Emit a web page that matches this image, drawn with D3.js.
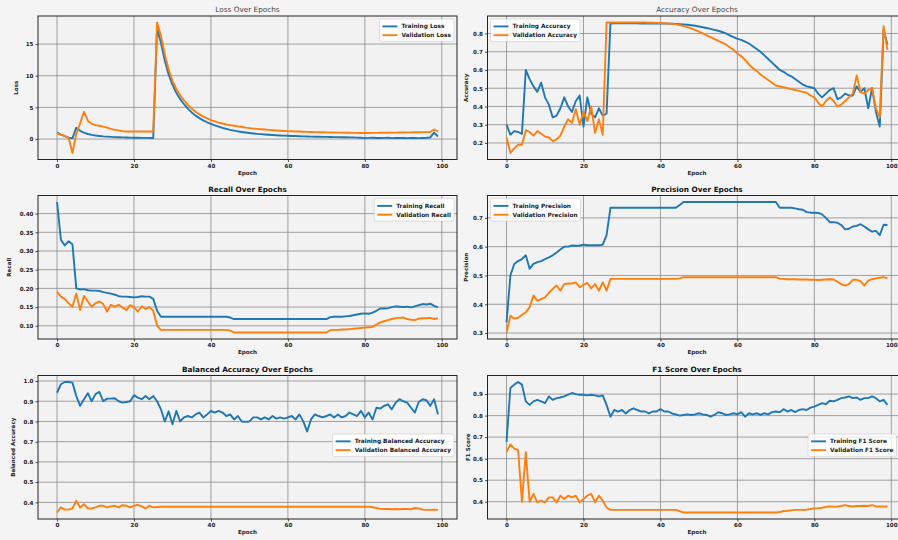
<!DOCTYPE html>
<html><head><meta charset="utf-8">
<script src="https://cdn.jsdelivr.net/npm/d3@7"></script>
<style>
html,body{margin:0;padding:0;background:#f4f4f4;overflow:hidden;}
svg{display:block;font-family:"DejaVu Sans",sans-serif;}
</style></head><body>
<svg id="fig" width="898" height="540"></svg>
<script>
const epochs = d3.range(100);
const xTicks = [0, 20, 40, 60, 80, 100];
const xTickLabels = ["0", "20", "40", "60", "80", "100"];

const trainLoss = [
 1.0, 0.7, 0.45, 0.2, 0.1, 1.8, 1.3, 1.0, 0.8, 0.65,
 0.55, 0.48, 0.42, 0.38, 0.34, 0.31, 0.28, 0.26, 0.24, 0.22,
 0.21, 0.2, 0.19, 0.18, 0.18, 0.17, 17.5, 15.2, 12.4, 10.2,
 8.6, 7.3, 6.3, 5.5, 4.8, 4.2, 3.7, 3.3, 2.95, 2.65,
 2.4, 2.15, 1.95, 1.75, 1.6, 1.45, 1.33, 1.22, 1.12, 1.03,
 0.95, 0.88, 0.82, 0.77, 0.72, 0.68, 0.64, 0.6, 0.57, 0.54,
 0.51, 0.49, 0.47, 0.45, 0.42, 0.4, 0.39, 0.37, 0.36, 0.35,
 0.34, 0.32, 0.31, 0.3, 0.29, 0.28, 0.27, 0.26, 0.22, 0.2,
 0.15, 0.18, 0.2, 0.17, 0.16, 0.18, 0.2, 0.15, 0.17, 0.19,
 0.17, 0.14, 0.16, 0.18, 0.15, 0.17, 0.2, 0.25, 1.0, 0.4];
const valLoss = [
 0.9, 0.7, 0.5, 0.2, -2.2, 0.8, 2.5, 4.3, 2.9, 2.4,
 2.2, 2.1, 1.95, 1.8, 1.6, 1.45, 1.35, 1.25, 1.2, 1.2,
 1.2, 1.2, 1.2, 1.2, 1.2, 1.2, 18.4, 16.3, 13.4, 11.0,
 9.2, 7.9, 6.9, 6.1, 5.4, 4.8, 4.3, 3.9, 3.55, 3.25,
 3.0, 2.8, 2.6, 2.45, 2.3, 2.2, 2.1, 2.0, 1.9, 1.8,
 1.72, 1.65, 1.6, 1.55, 1.5, 1.45, 1.4, 1.36, 1.32, 1.28,
 1.25, 1.22, 1.2, 1.18, 1.16, 1.14, 1.12, 1.1, 1.08, 1.07,
 1.05, 1.04, 1.03, 1.02, 1.01, 1.0, 0.99, 0.98, 0.97, 0.96,
 0.95, 0.96, 0.97, 0.98, 0.99, 1.0, 1.0, 1.01, 1.02, 1.03,
 1.04, 1.05, 1.06, 1.07, 1.08, 1.09, 1.1, 1.12, 1.5, 1.2];
const lossTicks = [0, 5, 10, 15];
const lossTickLabels = ["0", "5", "10", "15"];

const trainAcc = [
 0.30, 0.245, 0.265, 0.26, 0.25, 0.60, 0.55, 0.51, 0.48, 0.53,
 0.45, 0.41, 0.34, 0.35, 0.39, 0.45, 0.40, 0.37, 0.43, 0.46,
 0.29, 0.45, 0.36, 0.34, 0.39, 0.35, 0.36, 0.855, 0.856, 0.856,
 0.856, 0.856, 0.856, 0.856, 0.856, 0.855, 0.855, 0.855, 0.855, 0.855,
 0.855, 0.854, 0.854, 0.853, 0.852, 0.851, 0.85, 0.848, 0.845, 0.842,
 0.838, 0.834, 0.83, 0.825, 0.82, 0.815, 0.808, 0.80, 0.79, 0.78,
 0.77, 0.765, 0.755, 0.745, 0.73, 0.715, 0.70, 0.68, 0.66, 0.64,
 0.62, 0.60, 0.59, 0.575, 0.565, 0.55, 0.535, 0.52, 0.51, 0.505,
 0.50, 0.47, 0.45, 0.47, 0.49, 0.50, 0.44, 0.45, 0.47, 0.46,
 0.46, 0.51, 0.48, 0.50, 0.39, 0.50, 0.37, 0.29, 0.82, 0.74];
const valAcc = [
 0.23, 0.145, 0.17, 0.19, 0.19, 0.27, 0.26, 0.24, 0.265, 0.25,
 0.235, 0.23, 0.21, 0.22, 0.24, 0.29, 0.33, 0.31, 0.385, 0.30,
 0.37, 0.32, 0.40, 0.255, 0.33, 0.245, 0.86, 0.86, 0.86, 0.86,
 0.86, 0.86, 0.86, 0.86, 0.86, 0.86, 0.86, 0.859, 0.859, 0.858,
 0.857, 0.856, 0.855, 0.853, 0.85, 0.846, 0.841, 0.835, 0.828, 0.82,
 0.81, 0.80, 0.79, 0.78, 0.77, 0.76, 0.75, 0.74, 0.725, 0.71,
 0.69, 0.675, 0.655, 0.63, 0.61, 0.595, 0.575, 0.56, 0.545, 0.53,
 0.515, 0.51, 0.505, 0.50, 0.495, 0.49, 0.485, 0.48, 0.475, 0.46,
 0.45, 0.42, 0.40, 0.43, 0.45, 0.43, 0.40, 0.41, 0.43, 0.45,
 0.47, 0.57, 0.48, 0.47, 0.49, 0.50, 0.39, 0.34, 0.84, 0.71];
const accTicks = [0.2, 0.3, 0.4, 0.5, 0.6, 0.7, 0.8];
const accTickLabels = ["0.2", "0.3", "0.4", "0.5", "0.6", "0.7", "0.8"];

const trainRecall = [
 0.431, 0.33, 0.315, 0.326, 0.318, 0.20, 0.197, 0.198, 0.195, 0.194,
 0.194, 0.193, 0.19, 0.188, 0.186, 0.183, 0.179, 0.178, 0.178, 0.177,
 0.176, 0.177, 0.179, 0.178, 0.178, 0.172, 0.14, 0.124, 0.124, 0.124,
 0.124, 0.124, 0.124, 0.124, 0.124, 0.124, 0.124, 0.124, 0.124, 0.124,
 0.124, 0.124, 0.124, 0.124, 0.124, 0.122, 0.118, 0.118, 0.118, 0.118,
 0.118, 0.118, 0.118, 0.118, 0.118, 0.118, 0.118, 0.118, 0.118, 0.118,
 0.118, 0.118, 0.118, 0.118, 0.118, 0.118, 0.118, 0.118, 0.118, 0.118,
 0.118, 0.123, 0.124, 0.124, 0.124, 0.125, 0.126, 0.128, 0.13, 0.132,
 0.133, 0.132, 0.135, 0.14, 0.146, 0.146, 0.147, 0.15, 0.152, 0.151,
 0.15, 0.151, 0.149, 0.152, 0.155, 0.158, 0.157, 0.159, 0.153, 0.15];
const valRecall = [
 0.191, 0.178, 0.172, 0.16, 0.151, 0.186, 0.142, 0.18, 0.165, 0.151,
 0.16, 0.165, 0.158, 0.138, 0.156, 0.151, 0.156, 0.149, 0.142, 0.155,
 0.15, 0.138, 0.152, 0.145, 0.15, 0.14, 0.10, 0.089, 0.089, 0.089,
 0.089, 0.089, 0.089, 0.089, 0.089, 0.089, 0.089, 0.089, 0.089, 0.089,
 0.089, 0.089, 0.089, 0.089, 0.089, 0.087, 0.082, 0.082, 0.082, 0.082,
 0.082, 0.082, 0.082, 0.082, 0.082, 0.082, 0.082, 0.082, 0.082, 0.082,
 0.082, 0.082, 0.082, 0.082, 0.082, 0.082, 0.082, 0.082, 0.082, 0.082,
 0.082, 0.088, 0.089, 0.089, 0.09, 0.09, 0.091, 0.092, 0.093, 0.094,
 0.095, 0.096, 0.097, 0.103, 0.109, 0.112, 0.115, 0.118, 0.12, 0.121,
 0.122, 0.118, 0.116, 0.115, 0.119, 0.12, 0.12, 0.121, 0.118, 0.12];
const recallTicks = [0.10, 0.15, 0.20, 0.25, 0.30, 0.35, 0.40];
const recallTickLabels = ["0.10", "0.15", "0.20", "0.25", "0.30", "0.35", "0.40"];

const trainPrec = [
 0.337, 0.50, 0.54, 0.55, 0.557, 0.57, 0.523, 0.54, 0.546, 0.55,
 0.557, 0.563, 0.57, 0.58, 0.59, 0.60, 0.60, 0.604, 0.603, 0.604,
 0.607, 0.605, 0.605, 0.605, 0.605, 0.607, 0.64, 0.735, 0.735, 0.735,
 0.735, 0.735, 0.735, 0.735, 0.735, 0.735, 0.735, 0.735, 0.735, 0.735,
 0.735, 0.735, 0.735, 0.735, 0.735, 0.745, 0.755, 0.755, 0.755, 0.755,
 0.755, 0.755, 0.755, 0.755, 0.755, 0.755, 0.755, 0.755, 0.755, 0.755,
 0.755, 0.755, 0.755, 0.755, 0.755, 0.755, 0.755, 0.755, 0.755, 0.755,
 0.755, 0.735, 0.735, 0.735, 0.735, 0.733, 0.73, 0.728, 0.72, 0.718,
 0.718, 0.717, 0.712, 0.70, 0.685, 0.685, 0.683, 0.675, 0.66, 0.662,
 0.67, 0.672, 0.678, 0.67, 0.66, 0.652, 0.655, 0.64, 0.676, 0.675];
const valPrec = [
 0.302, 0.36, 0.35, 0.353, 0.363, 0.372, 0.39, 0.43, 0.412, 0.418,
 0.424, 0.44, 0.453, 0.465, 0.447, 0.47, 0.472, 0.472, 0.476, 0.459,
 0.468, 0.474, 0.455, 0.47, 0.447, 0.476, 0.447, 0.488, 0.488, 0.488,
 0.488, 0.488, 0.488, 0.488, 0.488, 0.488, 0.488, 0.488, 0.488, 0.488,
 0.488, 0.488, 0.488, 0.488, 0.488, 0.49, 0.494, 0.494, 0.494, 0.494,
 0.494, 0.494, 0.494, 0.494, 0.494, 0.494, 0.494, 0.494, 0.494, 0.494,
 0.494, 0.494, 0.494, 0.494, 0.494, 0.494, 0.494, 0.494, 0.494, 0.494,
 0.494, 0.488, 0.488, 0.487, 0.487, 0.487, 0.486, 0.486, 0.486, 0.485,
 0.485, 0.484, 0.485, 0.486, 0.487, 0.486, 0.478, 0.47, 0.465, 0.47,
 0.485, 0.485, 0.48, 0.465, 0.482, 0.487, 0.49, 0.492, 0.494, 0.49];
const precTicks = [0.3, 0.4, 0.5, 0.6, 0.7];
const precTickLabels = ["0.3", "0.4", "0.5", "0.6", "0.7"];

const trainBal = [
 0.942, 0.984, 0.995, 0.995, 0.992, 0.926, 0.877, 0.91, 0.94, 0.90,
 0.935, 0.946, 0.90, 0.913, 0.913, 0.915, 0.90, 0.893, 0.896, 0.90,
 0.93, 0.918, 0.91, 0.926, 0.91, 0.926, 0.90, 0.86, 0.80, 0.85,
 0.786, 0.852, 0.80, 0.82, 0.827, 0.82, 0.835, 0.844, 0.82, 0.835,
 0.852, 0.844, 0.852, 0.844, 0.827, 0.835, 0.81, 0.827, 0.80, 0.798,
 0.80, 0.82, 0.82, 0.81, 0.82, 0.81, 0.827, 0.814, 0.82, 0.814,
 0.82, 0.827, 0.81, 0.835, 0.80, 0.75, 0.81, 0.835, 0.827, 0.82,
 0.827, 0.835, 0.82, 0.835, 0.82, 0.827, 0.844, 0.835, 0.827, 0.852,
 0.82, 0.844, 0.81, 0.868, 0.864, 0.877, 0.885, 0.86, 0.893, 0.91,
 0.90, 0.893, 0.868, 0.844, 0.896, 0.91, 0.905, 0.877, 0.91, 0.835];
const valBal = [
 0.35, 0.375, 0.364, 0.364, 0.37, 0.408, 0.375, 0.391, 0.37, 0.37,
 0.375, 0.383, 0.383, 0.375, 0.38, 0.383, 0.375, 0.386, 0.383, 0.375,
 0.383, 0.388, 0.38, 0.37, 0.383, 0.375, 0.377, 0.378, 0.378, 0.378,
 0.378, 0.378, 0.378, 0.378, 0.378, 0.378, 0.378, 0.378, 0.378, 0.378,
 0.378, 0.378, 0.378, 0.378, 0.378, 0.378, 0.378, 0.378, 0.378, 0.378,
 0.378, 0.378, 0.378, 0.378, 0.378, 0.378, 0.378, 0.378, 0.378, 0.378,
 0.378, 0.378, 0.378, 0.378, 0.378, 0.378, 0.378, 0.378, 0.378, 0.378,
 0.378, 0.378, 0.378, 0.378, 0.378, 0.378, 0.378, 0.378, 0.378, 0.378,
 0.378, 0.378, 0.376, 0.372, 0.368, 0.367, 0.367, 0.366, 0.367, 0.366,
 0.367, 0.367, 0.366, 0.372, 0.37, 0.364, 0.363, 0.363, 0.364, 0.363];
const balTicks = [0.4, 0.5, 0.6, 0.7, 0.8, 0.9, 1.0];
const balTickLabels = ["0.4", "0.5", "0.6", "0.7", "0.8", "0.9", "1.0"];

const trainF1 = [
 0.678, 0.928, 0.944, 0.956, 0.944, 0.866, 0.85, 0.866, 0.873, 0.866,
 0.858, 0.889, 0.873, 0.881, 0.884, 0.889, 0.897, 0.905, 0.90, 0.897,
 0.897, 0.894, 0.897, 0.894, 0.889, 0.894, 0.85, 0.795, 0.826, 0.819,
 0.826, 0.81, 0.826, 0.834, 0.826, 0.819, 0.819, 0.81, 0.819, 0.819,
 0.83, 0.819, 0.819, 0.81, 0.806, 0.80, 0.803, 0.806, 0.803, 0.806,
 0.811, 0.806, 0.803, 0.795, 0.803, 0.816, 0.811, 0.803, 0.806, 0.811,
 0.806, 0.816, 0.795, 0.811, 0.806, 0.811, 0.803, 0.811, 0.806, 0.816,
 0.819, 0.816, 0.83, 0.819, 0.826, 0.816, 0.826, 0.83, 0.826, 0.837,
 0.842, 0.85, 0.858, 0.853, 0.869, 0.866, 0.873, 0.881, 0.884, 0.889,
 0.881, 0.884, 0.873, 0.881, 0.881, 0.889, 0.881, 0.866, 0.873, 0.85];
const valF1 = [
 0.631, 0.666, 0.647, 0.64, 0.40, 0.63, 0.40, 0.436, 0.397, 0.405,
 0.397, 0.42, 0.42, 0.397, 0.428, 0.413, 0.428, 0.42, 0.428, 0.397,
 0.413, 0.428, 0.436, 0.397, 0.428, 0.405, 0.373, 0.362, 0.362, 0.362,
 0.362, 0.362, 0.362, 0.362, 0.362, 0.362, 0.362, 0.362, 0.362, 0.362,
 0.362, 0.362, 0.362, 0.362, 0.362, 0.356, 0.35, 0.35, 0.35, 0.35,
 0.35, 0.35, 0.35, 0.35, 0.35, 0.35, 0.35, 0.35, 0.35, 0.35,
 0.35, 0.35, 0.35, 0.35, 0.35, 0.35, 0.35, 0.35, 0.35, 0.35,
 0.35, 0.352, 0.357, 0.358, 0.36, 0.362, 0.362, 0.362, 0.363, 0.366,
 0.369, 0.37, 0.372, 0.376, 0.378, 0.377, 0.378, 0.38, 0.384, 0.38,
 0.378, 0.38, 0.38, 0.381, 0.38, 0.384, 0.378, 0.378, 0.378, 0.378];
const f1Ticks = [0.4, 0.5, 0.6, 0.7, 0.8, 0.9];
const f1TickLabels = ["0.4", "0.5", "0.6", "0.7", "0.8", "0.9"];

const titles = ["Loss Over Epochs", "Accuracy Over Epochs", "Recall Over Epochs",
  "Precision Over Epochs", "Balanced Accuracy Over Epochs", "F1 Score Over Epochs"];
const yLabels = ["Loss", "Accuracy", "Recall", "Precision", "Balanced Accuracy", "F1 Score"];
const trainNames = ["Training Loss", "Training Accuracy", "Training Recall",
  "Training Precision", "Training Balanced Accuracy", "Training F1 Score"];
const valNames = ["Validation Loss", "Validation Accuracy", "Validation Recall",
  "Validation Precision", "Validation Balanced Accuracy", "Validation F1 Score"];

const panels = [
  {train: trainLoss, val: valLoss, ticks: lossTicks, labels: lossTickLabels, legend: "upper right", ylabDx: -20},
  {train: trainAcc, val: valAcc, ticks: accTicks, labels: accTickLabels, legend: "upper left", ylabDx: -20},
  {train: trainRecall, val: valRecall, ticks: recallTicks, labels: recallTickLabels, legend: "upper right", ylabDx: -27},
  {train: trainPrec, val: valPrec, ticks: precTicks, labels: precTickLabels, legend: "upper left", ylabDx: -20},
  {train: trainBal, val: valBal, ticks: balTicks, labels: balTickLabels, legend: "center right", ylabDx: -23},
  {train: trainF1, val: valF1, ticks: f1Ticks, labels: f1TickLabels, legend: "center right", ylabDx: -18}
];

// layout
const colX = [38, 487.5];
const rowY = [16, 195.5, 375.5];
const W = 419, H = 143.5;
const PAGE_W = 898;
const C_BLUE = "#1f77b4", C_ORANGE = "#ff7f0e";

const svg = d3.select("#fig");
svg.append("rect").attr("width", 898).attr("height", 540).attr("fill", "#f4f4f4");

panels.forEach((p, i) => {
  const left = colX[i % 2], top = rowY[Math.floor(i / 2)];
  const g = svg.append("g");
  const x = d3.scaleLinear().domain([-4.95, 103.95]).range([left, left + W]);
  const all = p.train.concat(p.val);
  const mn = d3.min(all), mx = d3.max(all), m = (mx - mn) * 0.05;
  const y = d3.scaleLinear().domain([mn - m, mx + m]).range([top + H, top]);

  g.append("rect").attr("x", left).attr("y", top).attr("width", W).attr("height", H)
    .attr("fill", "#f2f2f2");

  g.append("g").selectAll("line").data(xTicks).join("line")
    .attr("x1", d => x(d)).attr("x2", d => x(d)).attr("y1", top).attr("y2", top + H)
    .attr("stroke", "#8a8a8a").attr("stroke-width", 0.8);
  g.append("g").selectAll("line").data(p.ticks).join("line")
    .attr("y1", d => y(d)).attr("y2", d => y(d)).attr("x1", left).attr("x2", left + W)
    .attr("stroke", "#8a8a8a").attr("stroke-width", 0.8);

  const xa = g.append("g").attr("transform", `translate(0,${top + H})`)
    .call(d3.axisBottom(x).tickValues(xTicks).tickFormat((d, k) => xTickLabels[k]).tickSize(2.5).tickPadding(2));
  const ya = g.append("g").attr("transform", `translate(${left},0)`)
    .call(d3.axisLeft(y).tickValues(p.ticks).tickFormat((d, k) => p.labels[k]).tickSize(2.5).tickPadding(2));
  [xa, ya].forEach(a => {
    a.select(".domain").remove();
    a.selectAll(".tick line").attr("stroke", "#222").attr("stroke-width", 0.8);
    a.selectAll("text").attr("font-size", 5.6).attr("fill", "#222").attr("font-weight", "bold")
      .attr("font-family", "DejaVu Sans, sans-serif");
  });

  const clipId = "clip" + i;
  g.append("clipPath").attr("id", clipId).append("rect")
    .attr("x", left).attr("y", top).attr("width", W).attr("height", H);
  const line = d3.line().x((d, k) => x(epochs[k])).y(d => y(d));
  g.append("path").datum(p.train).attr("d", line).attr("fill", "none")
    .attr("stroke", C_BLUE).attr("stroke-width", 1.9).attr("clip-path", `url(#${clipId})`)
    .attr("stroke-linejoin", "round");
  g.append("path").datum(p.val).attr("d", line).attr("fill", "none")
    .attr("stroke", C_ORANGE).attr("stroke-width", 1.9).attr("clip-path", `url(#${clipId})`)
    .attr("stroke-linejoin", "round");

  g.append("rect").attr("x", left).attr("y", top).attr("width", W).attr("height", H)
    .attr("fill", "none").attr("stroke", "#222").attr("stroke-width", 1);

  g.append("text").attr("x", left + W / 2).attr("y", top - 4).attr("text-anchor", "middle")
    .attr("font-size", 7.3).attr("font-weight", i < 2 ? "normal" : "bold").attr("fill", i < 2 ? "#444" : "#111")
    .text(titles[i]);
  g.append("text").attr("x", left + W / 2).attr("y", top + H + 15).attr("text-anchor", "middle")
    .attr("font-size", 5.6).attr("font-weight", "bold").attr("fill", "#222").text("Epoch");
  g.append("text").attr("transform", `translate(${left + p.ylabDx},${top + H / 2}) rotate(-90)`)
    .attr("text-anchor", "middle").attr("font-size", 5.6).attr("font-weight", "bold").attr("fill", "#222")
    .text(yLabels[i]);

  // legend
  const lg = g.append("g");
  const fs = 5.8, rowH = 8.8, pad = 3, handle = 15, gap = 4;
  const names = [trainNames[i], valNames[i]];
  const texts = names.map(n => lg.append("text").attr("font-size", fs).attr("fill", "#222")
    .attr("font-weight", "bold").text(n));
  const tw = d3.max(texts.map(t => t.node().getComputedTextLength()));
  const bw = pad * 2 + handle + gap + tw, bh = pad * 2 + rowH * 2 - 1;
  const rightEdge = Math.min(left + W - 3, PAGE_W - 1.5);
  let bx, by;
  if (p.legend === "upper right") { bx = rightEdge - bw; by = top + 3; }
  else if (p.legend === "upper left") { bx = left + 3; by = top + 3; }
  else { bx = rightEdge - bw; by = top + H / 2 - bh / 2 - 2; }
  lg.insert("rect", "text").attr("x", bx).attr("y", by).attr("width", bw).attr("height", bh)
    .attr("rx", 2).attr("fill", "#ffffff").attr("fill-opacity", 0.8).attr("stroke", "#cccccc").attr("stroke-width", 0.6);
  [C_BLUE, C_ORANGE].forEach((c, k) => {
    const cy = by + pad + rowH * k + rowH / 2;
    lg.append("line").attr("x1", bx + pad).attr("x2", bx + pad + handle).attr("y1", cy).attr("y2", cy)
      .attr("stroke", c).attr("stroke-width", 1.9);
    texts[k].attr("x", bx + pad + handle + gap).attr("y", cy + 2);
  });
});
</script>
</body></html>
